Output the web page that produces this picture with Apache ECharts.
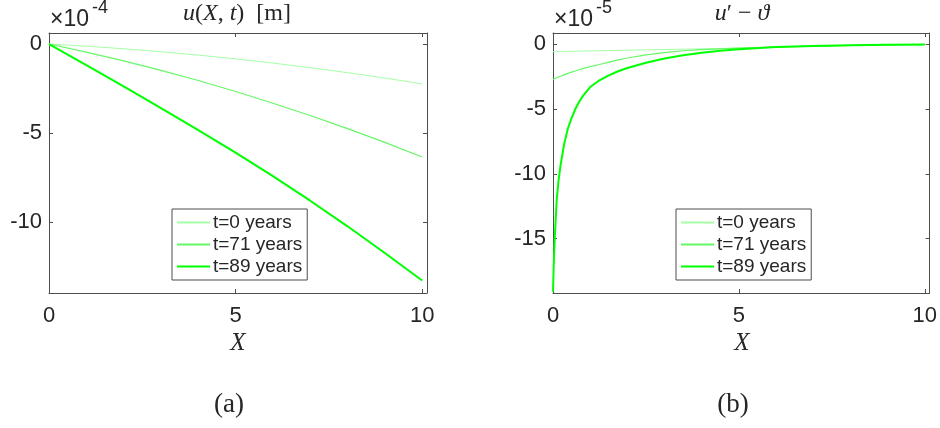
<!DOCTYPE html>
<html><head><meta charset="utf-8">
<script src="https://cdn.jsdelivr.net/npm/echarts@6/dist/echarts.min.js"></script>
<style>html,body{margin:0;padding:0;background:#fff}#c{width:940px;height:428px}</style>
</head><body><div id="c"></div>
<script>
// ---- data ----
const seriesNames = ['t=0 years', 't=71 years', 't=89 years'];
const xTicks = [0, 5, 10];
const yTicksLeft = [-10, -5, 0];
const yTicksRight = [-15, -10, -5, 0];

// (a) u(X,t) in units of 1e-4 m
const xLeft = [0, 1, 2, 3, 4, 5, 6, 7, 8, 9, 10];
const uT0  = [0, -0.121, -0.266, -0.433, -0.622, -0.835, -1.07, -1.329, -1.61, -1.913, -2.24];
const uT71 = [0, -0.453, -0.947, -1.48, -2.05, -2.67, -3.33, -4.02, -4.76, -5.53, -6.35];
const uT89 = [0, -1.18, -2.38, -3.6, -4.84, -6.11, -7.43, -8.81, -10.25, -11.75, -13.3];

// (b) u' - theta in units of 1e-5
const xRight = [0, 0.02, 0.05, 0.1, 0.15, 0.2, 0.3, 0.4, 0.5, 0.6, 0.7, 0.8, 1, 1.25, 1.5, 1.75, 2, 2.5, 3, 3.5, 4, 4.5, 5, 6, 7, 8, 9, 10];
const dT0  = [-0.57, -0.57, -0.567, -0.565, -0.562, -0.559, -0.553, -0.548, -0.542, -0.537, -0.531, -0.526, -0.515, -0.5, -0.487, -0.474, -0.46, -0.432, -0.405, -0.378, -0.35, -0.322, -0.295, -0.22, -0.15, -0.09, -0.05, -0.02];
const dT71 = [-2.71, -2.68, -2.64, -2.58, -2.52, -2.47, -2.36, -2.25, -2.15, -2.06, -1.97, -1.88, -1.73, -1.56, -1.38, -1.2, -1.06, -0.82, -0.64, -0.5, -0.41, -0.35, -0.3, -0.21, -0.14, -0.08, -0.045, -0.02];
const dT89 = [-19.1, -17.0, -14.8, -12.0, -10.5, -9.4, -7.7, -6.5, -5.7, -5.0, -4.45, -4.0, -3.3, -2.78, -2.4, -2.08, -1.83, -1.42, -1.1, -0.85, -0.66, -0.5, -0.38, -0.22, -0.13, -0.07, -0.04, -0.02];

// ---- styles ----
const colors = ['#a6ffa6', '#66f766', '#00ff00'];
const widths = [1, 1.2, 2];
const axisColor = '#4d4d4d';
const textColor = '#262626';
const sans = 'Liberation Sans';
const serif = 'Liberation Serif';

const pairs = (xs, ys) => xs.map((x, i) => [x, ys[i]]);

function xAxes(grid) {
  return [
    { type: 'value', gridIndex: grid, position: 'bottom', min: 0, max: 10.13,
      axisLine: { show: true, onZero: false, lineStyle: { color: axisColor, width: 1 } },
      axisTick: { show: true, inside: true, length: 4, customValues: xTicks, lineStyle: { color: axisColor } },
      axisLabel: { show: true, customValues: xTicks, margin: 12, color: textColor, fontFamily: sans, fontSize: 22 },
      splitLine: { show: false } },
    { type: 'value', gridIndex: grid, position: 'top', min: 0, max: 10.13,
      axisLine: { show: true, onZero: false, lineStyle: { color: axisColor, width: 1 } },
      axisTick: { show: true, inside: true, length: 4, customValues: xTicks, lineStyle: { color: axisColor } },
      axisLabel: { show: false }, splitLine: { show: false } }
  ];
}
function yAxes(grid, min, max, ticks) {
  return [
    { type: 'value', gridIndex: grid, position: 'left', min: min, max: max,
      axisLine: { show: true, onZero: false, lineStyle: { color: axisColor, width: 1 } },
      axisTick: { show: true, inside: true, length: 4, customValues: ticks, lineStyle: { color: axisColor } },
      axisLabel: { show: true, customValues: ticks, margin: 7, color: textColor, fontFamily: sans, fontSize: 22 },
      splitLine: { show: false } },
    { type: 'value', gridIndex: grid, position: 'right', min: min, max: max,
      axisLine: { show: true, onZero: false, lineStyle: { color: axisColor, width: 1 } },
      axisTick: { show: true, inside: true, length: 4, customValues: ticks, lineStyle: { color: axisColor } },
      axisLabel: { show: false }, splitLine: { show: false } }
  ];
}

function line(name, idx, axisIdx, xs, ys) {
  return { type: 'line', name: name, xAxisIndex: axisIdx, yAxisIndex: axisIdx,
    data: pairs(xs, ys), showSymbol: false, symbol: 'none', smooth: false,
    lineStyle: { color: colors[idx], width: widths[idx] }, itemStyle: { color: colors[idx] },
    z: 3 + idx, silent: true };
}

function legend(left) {
  return { left: left, top: 209, orient: 'vertical', data: seriesNames,
    backgroundColor: '#fff', borderColor: '#4d4d4d', borderWidth: 1,
    padding: [4, 5, 4, 4], itemGap: 3, itemWidth: 33, itemHeight: 21.5,
    itemStyle: { opacity: 0 },
    textStyle: { fontFamily: sans, fontSize: 19, color: textColor, padding: [0, 0, 0, -2] },
    selectedMode: false };
}

function label(x, y, text, size, family, extra) {
  return { type: 'text', x: x, y: y, silent: true,
    style: Object.assign({ text: text, fill: textColor, fontFamily: family, fontSize: size,
      textAlign: 'center', textVerticalAlign: 'middle' }, extra || {}) };
}

const italic = { i: { fontStyle: 'italic', fontFamily: serif, fontSize: 24 } };

const chart = echarts.init(document.getElementById('c'), null, { renderer: 'canvas' });
chart.setOption({
  animation: false,
  backgroundColor: '#fff',
  grid: [
    { left: 49, top: 33, width: 378, height: 260, containLabel: false },
    { left: 553, top: 33, width: 378, height: 260, containLabel: false }
  ],
  xAxis: xAxes(0).concat(xAxes(1)),
  yAxis: yAxes(0, -14.0, 0.62, yTicksLeft).concat(yAxes(1, -19.2, 0.87, yTicksRight)),
  legend: [legend(172), legend(676)],
  series: [
    line(seriesNames[0], 0, 0, xLeft, uT0),
    line(seriesNames[1], 1, 0, xLeft, uT71),
    line(seriesNames[2], 2, 0, xLeft, uT89),
    line(seriesNames[0], 0, 2, xRight, dT0),
    line(seriesNames[1], 1, 2, xRight, dT71),
    line(seriesNames[2], 2, 2, xRight, dT89)
  ],
  graphic: [
    label(237, 14, '{i|u}({i|X}, {i|t})  [m]', 24, serif, { rich: italic }),
    label(742, 14, "{i|u}′ − {i|ϑ}", 24, serif, { rich: italic }),
    label(50, 20, '×10', 23, sans, { textAlign: 'left' }),
    label(92, 8, '-4', 18, sans, { textAlign: 'left' }),
    label(554, 20, '×10', 23, sans, { textAlign: 'left' }),
    label(596, 8, '-5', 18, sans, { textAlign: 'left' }),
    label(238, 343, 'X', 25, serif, { fontStyle: 'italic' }),
    label(742, 343, 'X', 25, serif, { fontStyle: 'italic' }),
    label(229, 405, '(a)', 27, serif),
    label(733, 405, '(b)', 27, serif)
  ]
});
</script>
</body></html>
